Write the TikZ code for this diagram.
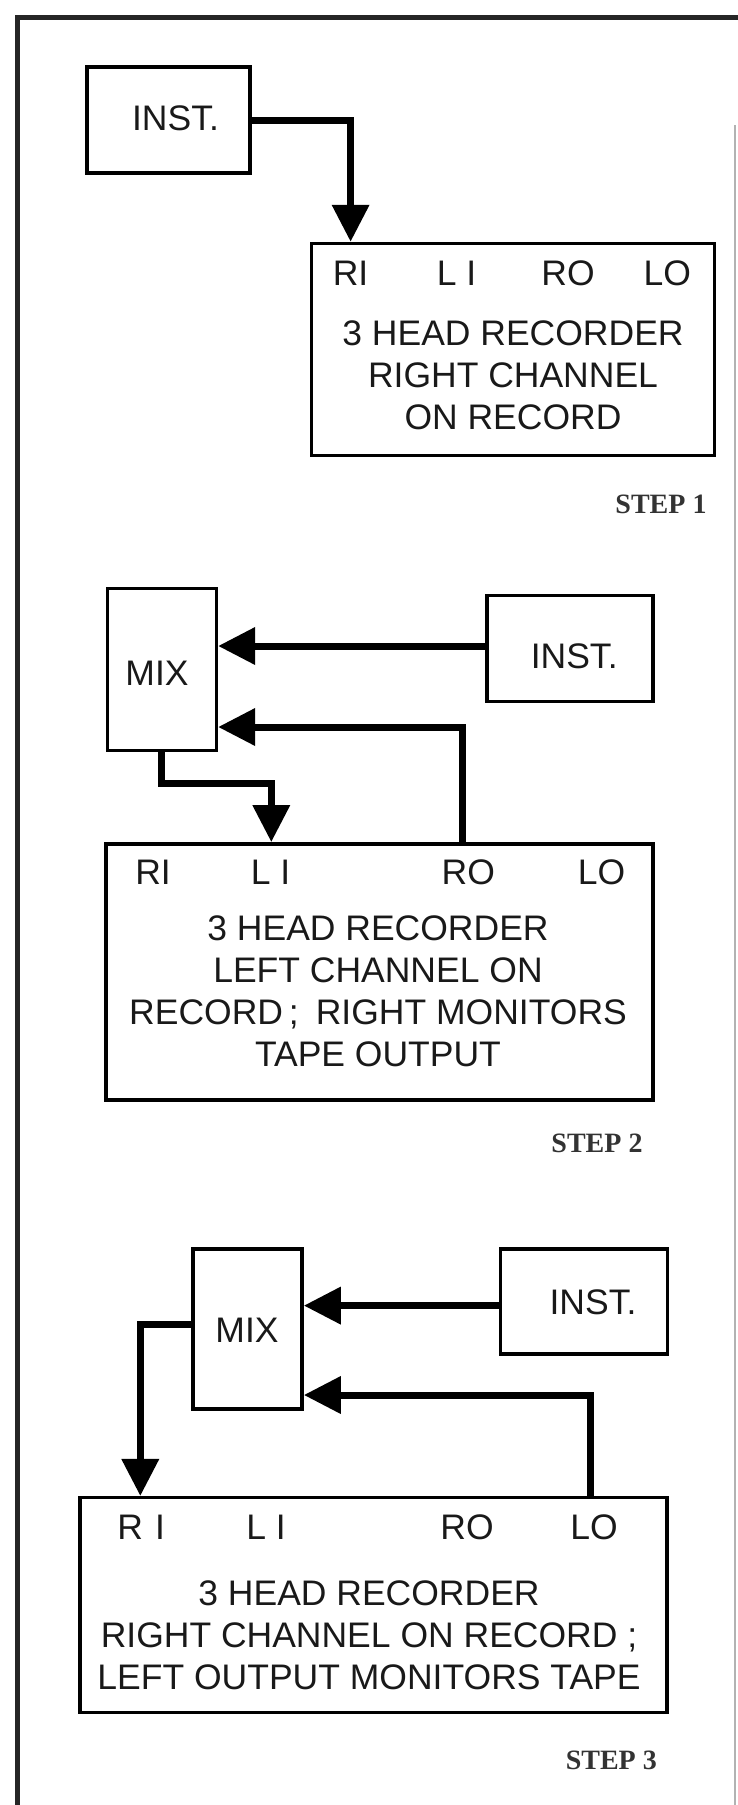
\documentclass[tikz,border=0pt]{standalone}
\usepackage{fontspec}
\setmainfont{Liberation Sans}
\newfontfamily\stepfont{Liberation Serif}
\usetikzlibrary{arrows.meta}
\begin{document}
\begin{tikzpicture}[x=1pt,y=-1pt,
  box/.style={draw, line width=3.5pt, inner sep=0pt},
  txt/.style={inner sep=0pt, align=center, font=\fontsize{35.5}{42}\selectfont, text=black!90},
  steplabel/.style={inner sep=0pt, font=\stepfont\bfseries\fontsize{28}{30}\selectfont, text=black!80},
  conn/.style={line width=7pt, -{Triangle[length=37pt,width=36pt]}},
  frame/.style={line width=4.2pt, black!85}]
\useasboundingbox (0,0) rectangle (738,1805);

% frame
\draw[frame] (17.5,1805) -- (17.5,17.5) -- (738,17.5);
\draw[line width=1.2pt, black!30] (735,125) -- (735,1805);

% ---------- STEP 1 ----------
\node[box, minimum width=163pt, minimum height=106pt] (inst1) at (168.5,120) {};
\node[txt] (inst1t) at (175.5,118) {INST.};
\node[box, minimum width=403pt, minimum height=212pt] (rec1) at (513,349.5) {};
\node[txt] (ri1) at (350.6,273) {RI};
\node[txt] (li1) at (456.5,273) {L I};
\node[txt] (ro1) at (568,273) {RO};
\node[txt] (lo1) at (667.4,273) {LO};
\node[txt] (rec1t) at (513,375) {3 HEAD RECORDER\\RIGHT CHANNEL\\ON RECORD};
\node[steplabel] (step1) at (661,504.5) {STEP 1};
\draw[conn] (inst1.east) -| (ri1.center |- rec1.north);

% ---------- STEP 2 ----------
\node[box, minimum width=109pt, minimum height=162pt] (mix2) at (161.9,669.5) {};
\node[txt] (mix2t) at (157,673) {MIX};
\node[box, minimum width=166pt, minimum height=106pt] (inst2) at (569.9,648.3) {};
\node[txt] (inst2t) at (574.2,656) {INST.};
\node[box, minimum width=547pt, minimum height=256pt] (rec2) at (379.6,971.8) {};
\node[txt] (ri2) at (153,872) {RI};
\node[txt] (li2) at (270.6,872) {L I};
\node[txt] (ro2) at (468.3,872) {RO};
\node[txt] (lo2) at (601.5,872) {LO};
\node[txt] (rec2t) at (378,991.6) {3 HEAD RECORDER\\LEFT CHANNEL ON\\RECORD\,;\hspace{17pt}RIGHT MONITORS\\TAPE OUTPUT};
\node[steplabel] (step2) at (597,1143.5) {STEP 2};
\coordinate (a2) at (0,646);
\coordinate (b2) at (462.7,727);
\coordinate (c2) at (271.3,783.5);
\draw[conn] (inst2.west |- a2) -- (mix2.east |- a2);
\draw[conn] (b2 |- rec2.north) |- (mix2.east |- b2);
\draw[conn] (mix2.south) |- (c2) -- (c2 |- rec2.north);

% ---------- STEP 3 ----------
\node[box, minimum width=109pt, minimum height=160pt] (mix3) at (247.6,1329.2) {};
\node[txt] (mix3t) at (247,1330.6) {MIX};
\node[box, minimum width=167pt, minimum height=105pt] (inst3) at (583.9,1301.6) {};
\node[txt] (inst3t) at (593,1302.3) {INST.};
\node[box, minimum width=587pt, minimum height=215pt] (rec3) at (373.7,1605.2) {};
\node[txt] (ri3) at (141.2,1527.3) {R\hspace{12pt}I};
\node[txt] (li3) at (266,1527.3) {L I};
\node[txt] (ro3) at (467,1527.3) {RO};
\node[txt] (lo3) at (594,1527.3) {LO};
\node[txt] (rec3t) at (369,1635.5) {3 HEAD RECORDER\\RIGHT CHANNEL ON RECORD ;\\LEFT OUTPUT MONITORS TAPE};
\node[steplabel] (step3) at (611.3,1760) {STEP 3};
\coordinate (a3) at (0,1305.6);
\coordinate (b3) at (590.7,1395);
\coordinate (c3) at (140.3,1324.5);
\draw[conn] (inst3.west |- a3) -- (mix3.east |- a3);
\draw[conn] (b3 |- rec3.north) |- (mix3.east |- b3);
\draw[conn] (mix3.west |- c3) -| (c3 |- rec3.north);
\end{tikzpicture}
\end{document}
